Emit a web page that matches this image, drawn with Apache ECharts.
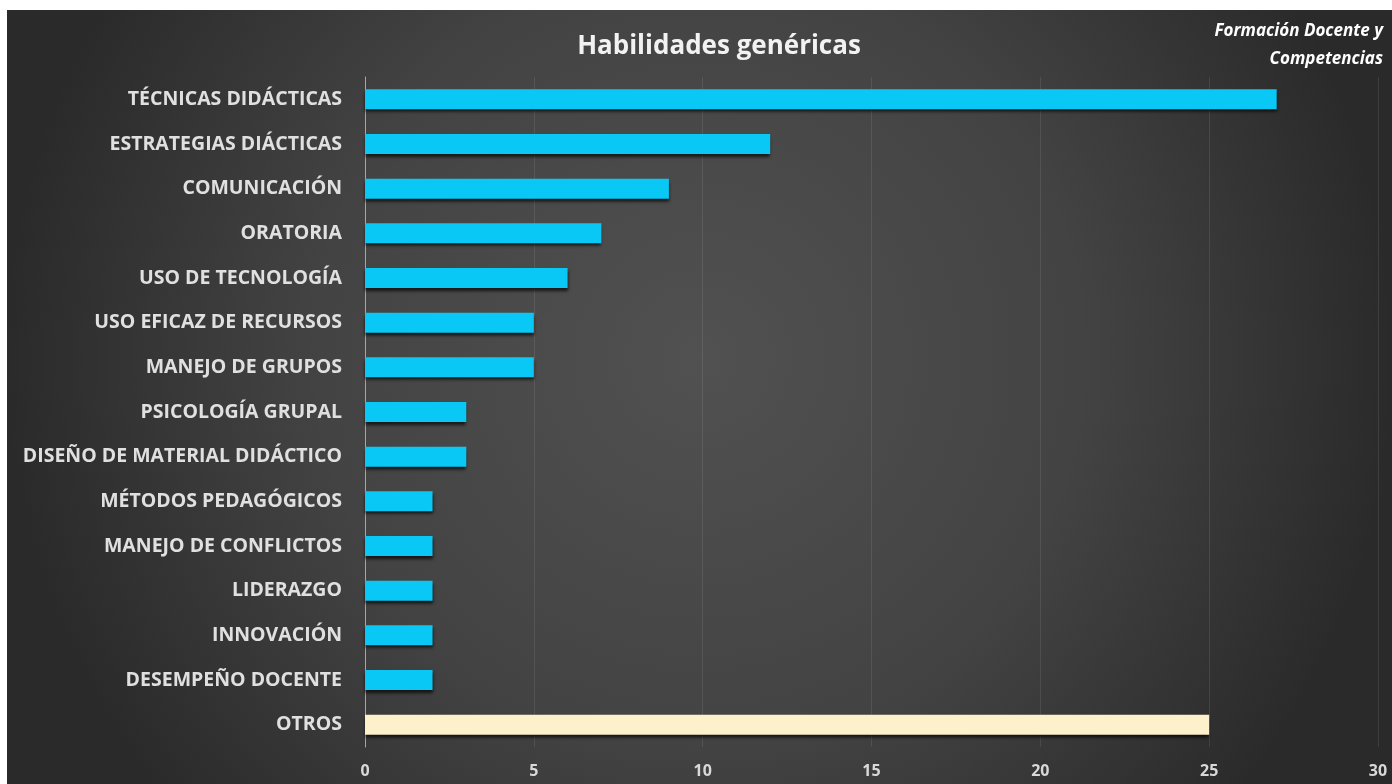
<!DOCTYPE html>
<html>
<head>
<meta charset="utf-8">
<script src="https://cdn.jsdelivr.net/npm/echarts@6/dist/echarts.min.js"></script>
<style>
  html, body { margin: 0; padding: 0; background: #fff; }
  #chart { position: absolute; left: 7px; top: 10px; width: 1385px; height: 774px; }
</style>
</head>
<body>
<div id="chart"></div>
<script>
// datos (de arriba hacia abajo)
const categories = [
  "TÉCNICAS DIDÁCTICAS", "ESTRATEGIAS DIÁCTICAS", "COMUNICACIÓN", "ORATORIA",
  "USO DE TECNOLOGÍA", "USO EFICAZ DE RECURSOS", "MANEJO DE GRUPOS", "PSICOLOGÍA GRUPAL",
  "DISEÑO DE MATERIAL DIDÁCTICO", "MÉTODOS PEDAGÓGICOS", "MANEJO DE CONFLICTOS",
  "LIDERAZGO", "INNOVACIÓN", "DESEMPEÑO DOCENTE", "OTROS"
];
const values = [27, 12, 9, 7, 6, 5, 5, 3, 3, 2, 2, 2, 2, 2, 25];
const otherLabel = "OTROS";
const xTicks = { min: 0, max: 30, interval: 5 };

const CYAN = "#0ac8f5", CREAM = "#fdf1cc";
const chart = echarts.init(document.getElementById("chart"));

chart.setOption({
  backgroundColor: {
    type: "radial", x: 0.5, y: 0.45, r: 0.9,
    colorStops: [{ offset: 0, color: "#515151" }, { offset: 0.55, color: "#434343" }, { offset: 1, color: "#2a2a2a" }]
  },
  title: {
    text: "Habilidades genéricas", left: 707, top: 19, textAlign: "center",
    textStyle: { color: "#f2f2f2", fontFamily: "Open Sans", fontWeight: "bold", fontSize: 26 }
  },
  graphic: [
    { type: "text", right: 9, top: 13,
      style: { text: "Formación Docente y", fill: "#ffffff", font: "italic bold 17px 'Open Sans'" } },
    { type: "text", right: 9, top: 41,
      style: { text: "Competencias", fill: "#ffffff", font: "italic bold 17px 'Open Sans'" } }
  ],
  grid: { left: 358, right: 14, top: 67, bottom: 37 },
  xAxis: {
    type: "value", ...xTicks,
    axisLine: { show: false }, axisTick: { show: false },
    splitLine: { lineStyle: { color: "rgba(255,255,255,0.09)" } },
    axisLabel: { color: "#d9d9d9", fontFamily: "Open Sans", fontWeight: "bold", fontSize: 16, margin: 16 }
  },
  yAxis: {
    type: "category", inverse: true, data: categories,
    axisLine: { lineStyle: { color: "#a6a6a6", width: 1 } }, axisTick: { show: false },
    axisLabel: { color: "#e0e0e0", fontFamily: "Open Sans", fontWeight: "bold", fontSize: 19.5, margin: 23 }
  },
  series: [{
    type: "bar", barWidth: 20,
    data: values.map((v, i) => ({
      value: v,
      itemStyle: { color: categories[i] === otherLabel ? CREAM : CYAN }
    })),
    itemStyle: { shadowColor: "rgba(0,0,0,0.7)", shadowBlur: 3, shadowOffsetY: 3 },
    animation: false
  }]
});
</script>
</body>
</html>
